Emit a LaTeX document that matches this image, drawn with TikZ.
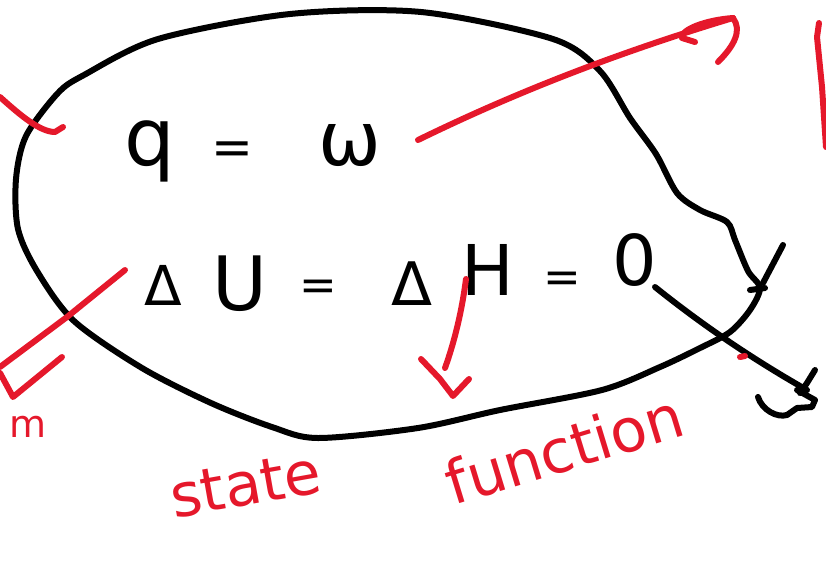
\documentclass[tikz,border=0pt]{standalone}
\usepackage{fontspec}
\setmainfont{DejaVu Sans}
\definecolor{penred}{HTML}{E5182B}
\begin{document}
\begin{tikzpicture}[x=1pt,y=-1pt,
  ink/.style={line width=6pt,line cap=round,line join=round},
  redink/.style={ink,draw=penred},
  glyph/.style={inner sep=0pt,anchor=base,font=\fontsize{#1}{#1}\selectfont},
  redword/.style={glyph=#1,text=penred}]
\useasboundingbox (0,0) rectangle (826,560);
% the closed system
\draw[ink] plot[smooth cycle,tension=0.5] coordinates {
  (600,71) (630,118) (656,154) (677,193) (700,210) (727,222) (735,240)
  (748,271) (760,288) (750,310) (730,332) (700,348) (660,367) (602,390)
  (500,410) (418,428) (318,438) (272,427) (211,403) (142,368) (74,321)
  (37,271) (18,229) (16,179) (26,136) (58,93) (84,75) (158,39) (290,14)
  (421,12) (553,39)};
\draw[ink] (783,245) -- (763,283);
\draw[ink] (750,290) -- (765,288);
% first law for the process
\node[glyph=80] (q) at (150,165) {q};
\node[glyph=50] (eqa) at (232,164) {=};
\node[glyph=75] (omega) at (350,165) {ω};
\node[glyph=55] (dU) at (163,305) {Δ};
\node[glyph=75] (U) at (240,310) {U};
\node[glyph=45] (eqb) at (318,300) {=};
\node[glyph=60] (dH) at (412,305) {Δ};
\node[glyph=70] (H) at (488,295) {H};
\node[glyph=45] (eqc) at (562,292) {=};
\node[glyph=70] (zero) at (635,285) {0};
\draw[ink] (655,287) .. controls (690,315) and (740,352) .. (807,390);
\draw[ink] (815,370) -- (807,383) -- (800,393);
\draw[ink] (758,397) .. controls (762,410) and (777,418) .. (787,415)
  -- (797,408) -- (812,407) -- (815,400) -- (797,390);
% red notes
\draw[redink] (0,97) .. controls (20,115) and (40,132) .. (55,132) -- (63,127);
\draw[redink] (125,270) -- (67,317) -- (0,367);
\draw[redink] (0,373) -- (13,397) -- (62,357);
\node[redword=38] (m) at (28,437) {m};
\draw[redink] (418,140) .. controls (500,100) and (600,58) .. (733,18);
\draw[redink] (733,18) .. controls (742,30) and (735,45) .. (718,62);
\draw[redink] (733,18) .. controls (705,20) and (680,30) .. (682,38) -- (695,42);
\draw[redink] (819,23) -- (817,37) -- (822,87) -- (826,147);
\draw[redink] (466,279) .. controls (462,310) and (455,340) .. (445,368);
\draw[redink] (421,359) -- (440,379) -- (453,396) -- (469,379);
\draw[redink] (740,357) -- (745,356);
\node[redword=60,rotate=10] (state) at (249,505) {state};
\node[redword=60,rotate=17] (function) at (571,470) {function};
\end{tikzpicture}
\end{document}
